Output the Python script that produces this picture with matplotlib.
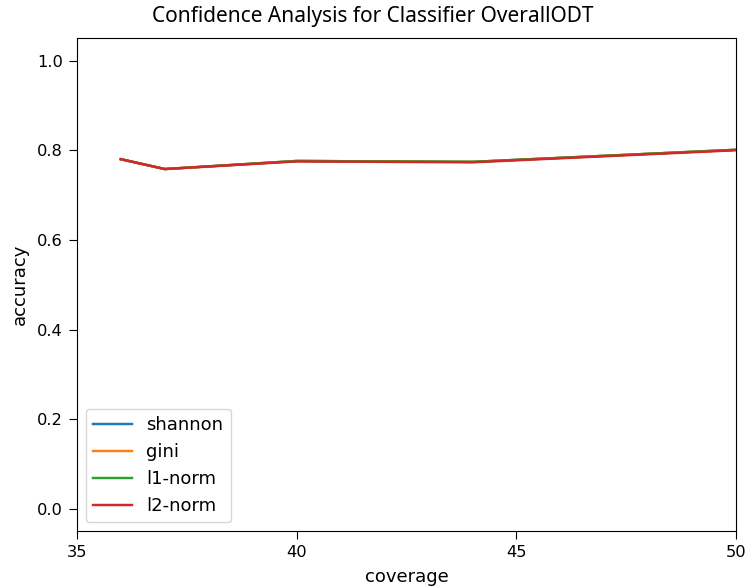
import matplotlib
matplotlib.use('Agg')
import matplotlib.pyplot as plt

coverage = [36, 37, 40, 44, 50]
accuracy = {
  'shannon': [0.780, 0.758, 0.776, 0.774, 0.801],
  'gini':    [0.780, 0.758, 0.776, 0.774, 0.801],
  'l1-norm': [0.780, 0.758, 0.776, 0.774, 0.801],
  'l2-norm': [0.780, 0.758, 0.775, 0.773, 0.800],
}

plt.rcParams['font.size'] = 11.7
plt.rcParams['lines.linewidth'] = 1.75
plt.rcParams['xtick.major.size'] = 6
plt.rcParams['ytick.major.size'] = 6
plt.rcParams['xtick.major.pad'] = 4
plt.rcParams['ytick.major.pad'] = 4

fig = plt.figure(figsize=(7.46, 5.87), dpi=100)
ax = fig.add_subplot(1, 1, 1)

for name, vals in accuracy.items():
  ax.plot(coverage, vals, label=name)

ax.set_xlim(35, 50)
ax.set_ylim(-0.05, 1.05)
ax.set_xticks([35, 40, 45, 50])
fig.suptitle('Confidence Analysis for Classifier OverallODT',
             family='Noto Sans', fontsize=15, x=0.5, y=0.99, va='top')
ax.set_xlabel('coverage', fontsize=13, labelpad=6)
ax.set_ylabel('accuracy', fontsize=13, labelpad=6)
ax.legend(loc='lower left', fontsize=13, handlelength=2.15)

fig.subplots_adjust(left=0.103, right=0.987, top=0.935, bottom=0.095)
fig.savefig('out.png')
